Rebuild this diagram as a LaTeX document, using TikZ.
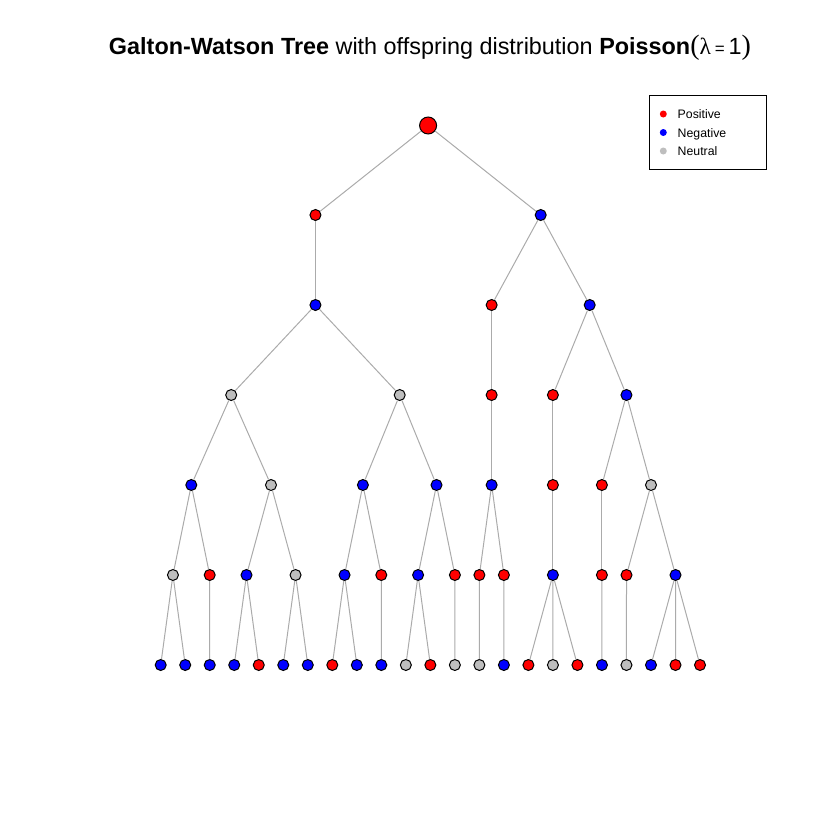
\documentclass[tikz,border=0pt]{standalone}
\usepackage{fontspec}
\setmainfont{Liberation Sans}
\newfontfamily\symfont{Liberation Serif}
\definecolor{edgegray}{HTML}{ABABAB}
\definecolor{neutralgray}{HTML}{BEBEBE}
\begin{document}
\begin{tikzpicture}[x=1pt,y=-1pt,
  vtx/.style={circle,draw=black,line width=1pt,inner sep=0pt,minimum size=11pt},
  vpos/.style={vtx,fill=red},
  vneg/.style={vtx,fill=blue},
  vneu/.style={vtx,fill=neutralgray},
  edgeline/.style={draw=edgegray,line width=1pt},
  legdot/.style={circle,inner sep=0pt,minimum size=7pt},
  legtxt/.style={anchor=base west,inner sep=0pt,font=\fontsize{12.3}{14}\selectfont}]
\useasboundingbox (0,0) rectangle (814,814);
% title
\node[anchor=base,inner sep=0pt] (title) at (430,54)
  {\fontsize{23.4}{28}\selectfont\textbf{Galton-Watson Tree} with offspring distribution \textbf{Poisson}{\symfont\fontsize{28}{30}\selectfont(}{\symfont λ}\,{\fontsize{17}{20}\selectfont =}\,1{\symfont\fontsize{28}{30}\selectfont)}};
% level 0
\node[vpos,minimum size=17pt] (r) at (428.1,125.5) {};
% level 1
\node[vpos] (a1) at (315.45,215) {};
\node[vneg] (a2) at (540.7,215) {};
% level 2
\node[vneg] (b1) at (315.45,305) {};
\node[vpos] (b2) at (491.65,305) {};
\node[vneg] (b3) at (589.7,305) {};
% level 3
\node[vneu] (c1) at (231.2,395) {};
\node[vneu] (c2) at (399.7,395) {};
\node[vpos] (c3) at (491.65,395) {};
\node[vpos] (c4) at (552.9,395) {};
\node[vneg] (c5) at (626.45,395) {};
% level 4
\node[vneg] (d1) at (191.3,485) {};
\node[vneu] (d2) at (271.0,485) {};
\node[vneg] (d3) at (362.9,485) {};
\node[vneg] (d4) at (436.5,485) {};
\node[vneg] (d5) at (491.65,485) {};
\node[vpos] (d6) at (552.9,485) {};
\node[vpos] (d7) at (601.9,485) {};
\node[vneu] (d8) at (651.0,485) {};
% level 5
\node[vneu] (e1) at (172.95,575) {};
\node[vpos] (e2) at (209.7,575) {};
\node[vneg] (e3) at (246.5,575) {};
\node[vneu] (e4) at (295.55,575) {};
\node[vneg] (e5) at (344.55,575) {};
\node[vpos] (e6) at (381.3,575) {};
\node[vneg] (e7) at (418.1,575) {};
\node[vpos] (e8) at (454.9,575) {};
\node[vpos] (e9) at (479.4,575) {};
\node[vpos] (e10) at (503.9,575) {};
\node[vneg] (e11) at (552.9,575) {};
\node[vpos] (e12) at (601.9,575) {};
\node[vpos] (e13) at (626.5,575) {};
\node[vneg] (e14) at (675.5,575) {};
% level 6 (leaves)
\foreach \c [count=\i from 0] in {vneg,vneg,vneg,vneg,vpos,vneg,vneg,vpos,vneg,vneg,vneu,vpos,vneu,vneu,vneg,vpos,vneu,vpos,vneg,vneu,vneg,vpos,vpos}
  \node[\c] (f\i) at ({160.7+24.514*\i},665) {};
% edges
\foreach \p/\q in {r/a1,r/a2,a1/b1,a2/b2,a2/b3,b1/c1,b1/c2,b2/c3,b3/c4,b3/c5,
  c1/d1,c1/d2,c2/d3,c2/d4,c3/d5,c4/d6,c5/d7,c5/d8,
  d1/e1,d1/e2,d2/e3,d2/e4,d3/e5,d3/e6,d4/e7,d4/e8,d5/e9,d5/e10,d6/e11,d7/e12,d8/e13,d8/e14,
  e1/f0,e1/f1,e2/f2,e3/f3,e3/f4,e4/f5,e4/f6,e5/f7,e5/f8,e6/f9,e7/f10,e7/f11,e8/f12,e9/f13,e10/f14,
  e11/f15,e11/f16,e11/f17,e12/f18,e13/f19,e14/f20,e14/f21,e14/f22}
  \draw[edgeline] (\p) -- (\q);
% legend
\node[draw=black,line width=1pt,anchor=north west,inner sep=0pt,minimum width=116.7pt,minimum height=74pt] (legend) at (649,95) {};
\node[legdot,fill=red] (lp) at (663.3,114) {};
\node[legdot,fill=blue] (ln) at (663.3,132.5) {};
\node[legdot,fill=neutralgray] (lu) at (663.3,151) {};
\node[legtxt] (lpt) at (677.5,118.5) {Positive};
\node[legtxt] (lnt) at (677.5,137) {Negative};
\node[legtxt] (lut) at (677.5,155.5) {Neutral};
\end{tikzpicture}
\end{document}
